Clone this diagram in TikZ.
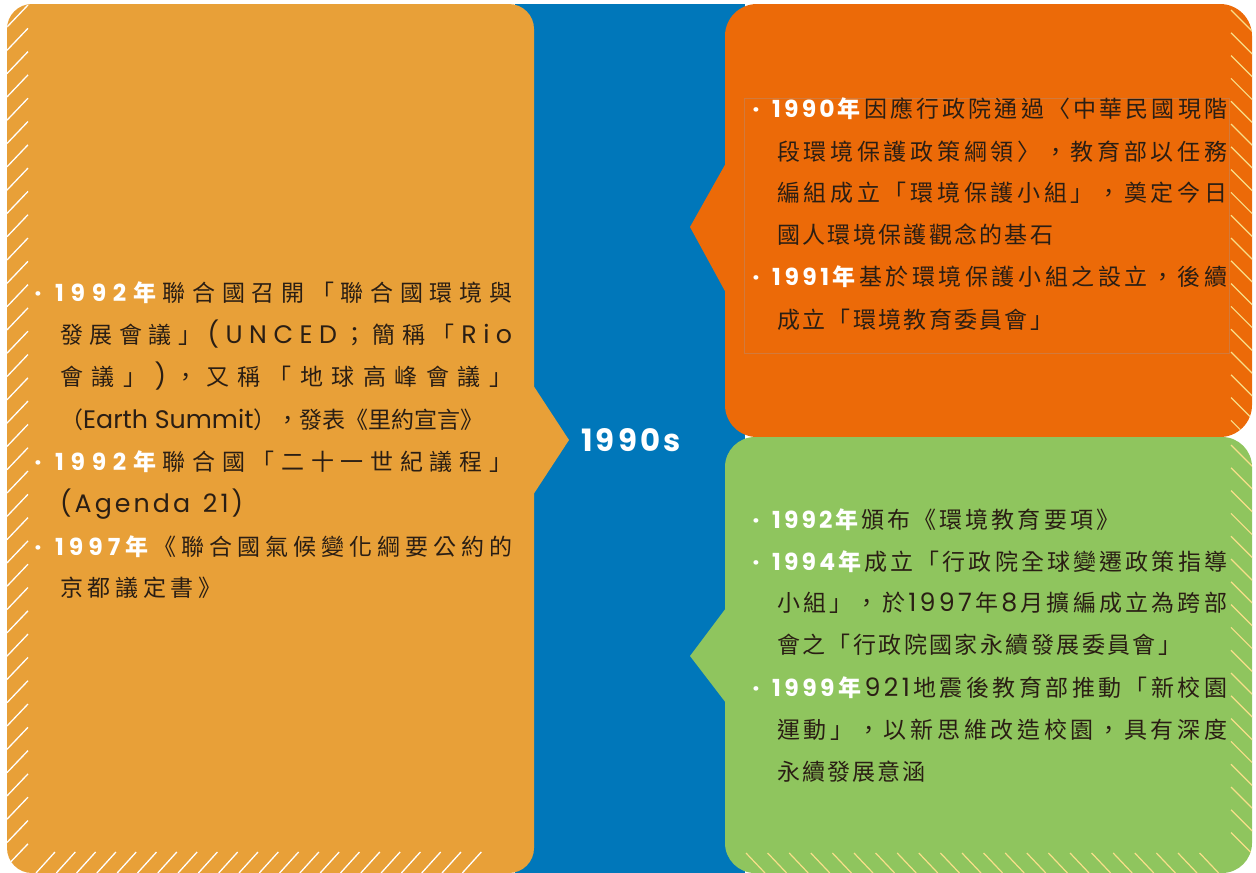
\documentclass[tikz,border=0pt]{standalone}
\usepackage{fontspec}
\setmainfont{Noto Sans CJK TC}
\newfontfamily\lat{Poppins}[Scale=1.1]
\newfontfamily\latyr{Poppins}[Scale=1.02]
\definecolor{bandblue}{HTML}{0077BA}
\definecolor{lorange}{HTML}{E8A038}
\definecolor{rorange}{HTML}{EC6A08}
\definecolor{rgreen}{HTML}{8FC55E}
\definecolor{hatchy}{HTML}{F8DF8A}
\definecolor{darktxt}{HTML}{2A1E14}
\definecolor{framec}{HTML}{D27A3C}
\ExplSyntaxOn
\NewDocumentCommand\spr{m}{\tl_map_inline:nn{#1}{##1\hfil}}
\ExplSyntaxOff
\newcommand\jl[2]{\makebox[#1pt][s]{#2\unskip}}
\newcommand\yr[1]{{\color{white}\bfseries{\latyr\spr{#1}}年}\hfil}
\begin{document}
\begin{tikzpicture}[x=1pt,y=-1pt,
  txt/.style={anchor=base west, inner sep=0pt, text=darktxt, font=\fontsize{23}{27}\selectfont},
  bul/.style={anchor=base, inner sep=0pt, text=white, font={\lat\bfseries\fontsize{22}{26}\selectfont}},
  hw/.style={draw=white, line width=1.3pt},
  hy/.style={draw=hatchy, line width=1.2pt}]
\useasboundingbox (0,0) rectangle (1256,873);
% central band
\fill[bandblue] (515,4) rectangle (745,873);
% left panel
\fill[lorange, rounded corners=25pt] (7,4) rectangle (534,873);
\fill[lorange] (533,385) -- (569,440) -- (533,495) -- cycle;
\begin{scope}
  \clip[rounded corners=25pt] (7,4) rectangle (534,873);
  \foreach \t in {5,28.3,...,845} \draw[hw] (7,\t+22) -- (28,\t);
  \foreach \s in {36,56.3,...,470} \draw[hw] (\s,873) -- (\s+19,852);
\end{scope}
% right top panel
\fill[rorange, rounded corners=32pt] (725,4) rectangle (1252,437);
\fill[rorange] (726,163) -- (690,227) -- (726,293) -- cycle;
\begin{scope}
  \clip[rounded corners=32pt] (725,4) rectangle (1252,437);
  \foreach \t in {10,32.8,...,430} \draw[hy] (1231,\t) -- (1253,\t+22);
\end{scope}
\draw[framec, line width=0.5pt] (744,98) rectangle (1229,353);
% right bottom panel
\fill[rgreen, rounded corners=30pt] (725,437) rectangle (1252,873);
\fill[rgreen] (726,608) -- (690,656) -- (726,703) -- cycle;
\begin{scope}
  \clip[rounded corners=30pt] (725,437) rectangle (1252,873);
  \foreach \t in {445,467.8,...,850} \draw[hy] (1231,\t) -- (1253,\t+22);
  \foreach \s in {746,767.6,...,1212} \draw[hy] (\s,853) -- (\s+19,873);
\end{scope}
% decade label
\node[inner sep=0pt, text=white, font={\lat\bfseries\fontsize{28}{34}\selectfont}] (dec) at (631,440) {\jl{100}{\spr{1990s}}};
% left texts
\node[bul] (lb1) at (38,301) {·};
\node[bul] (lb2) at (38,470) {·};
\node[bul] (lb3) at (38,555) {·};
\node[txt] (l1) at (55,301) {\jl{457}{\yr{1992}\spr{聯合國召開「聯合國環境與}}};
\node[txt] (l2) at (60,343) {\jl{452}{\spr{發展會議」}{\lat\spr{(UNCED}}\spr{；簡稱「}{\lat\spr{Rio}}}};
\node[txt] (l3) at (60,385) {\jl{452}{\spr{會議」}{\lat\spr{)}}\spr{，又稱「地球高峰會議」}}};
\node[txt] (l4) at (60,428) {（{\lat Earth Summit}），發表《里約宣言》};
\node[txt] (l5) at (55,470) {\jl{457}{\yr{1992}\spr{聯合國「二十一世紀議程」}}};
\node[txt] (l6) at (60,512) {\jl{183}{\lat\spr{(Agenda~21)}}};
\node[txt] (l7) at (55,555) {\jl{457}{\yr{1997}\spr{《聯合國氣候變化綱要公約的}}};
\node[txt] (l8) at (60,596) {\jl{161}{\spr{京都議定書》}}};
% right orange texts
\node[bul] (rb1) at (756,117) {·};
\node[bul] (rb2) at (756,285) {·};
\node[txt] (r1) at (772,117) {\jl{455}{\yr{1990}\spr{因應行政院通過〈中華民國現階}}};
\node[txt] (r2) at (777,160) {\jl{450}{\spr{段環境保護政策綱領〉，教育部以任務}}};
\node[txt] (r3) at (777,201) {\jl{450}{\spr{編組成立「環境保護小組」，奠定今日}}};
\node[txt] (r4) at (777,243) {\jl{276}{\spr{國人環境保護觀念的基石}}};
\node[txt] (r5) at (772,285) {\jl{455}{\yr{1991}\spr{基於環境保護小組之設立，後續}}};
\node[txt] (r6) at (777,328) {\jl{276}{\spr{成立「環境教育委員會」}}};
% green texts
\node[bul] (gb1) at (756,528) {·};
\node[bul] (gb2) at (756,570) {·};
\node[bul] (gb3) at (756,696) {·};
\node[txt] (g1) at (772,528) {\jl{347}{\yr{1992}\spr{頒布《環境教育要項》}}};
\node[txt] (g2) at (772,570) {\jl{455}{\yr{1994}\spr{成立「行政院全球變遷政策指導}}};
\node[txt] (g3) at (777,611) {\jl{450}{\spr{小組」，於}{\lat\spr{1997}}\spr{年}{\lat\spr{8}}\spr{月擴編成立為跨部}}};
\node[txt] (g4) at (777,653) {\jl{404}{\spr{會之「行政院國家永續發展委員會」}}};
\node[txt] (g5) at (772,696) {\jl{455}{\yr{1999}{\lat\spr{921}}\spr{地震後教育部推動「新校園}}};
\node[txt] (g6) at (777,738) {\jl{450}{\spr{運動」，以新思維改造校園，具有深度}}};
\node[txt] (g7) at (777,780) {\jl{148}{\spr{永續發展意涵}}};
\end{tikzpicture}
\end{document}
